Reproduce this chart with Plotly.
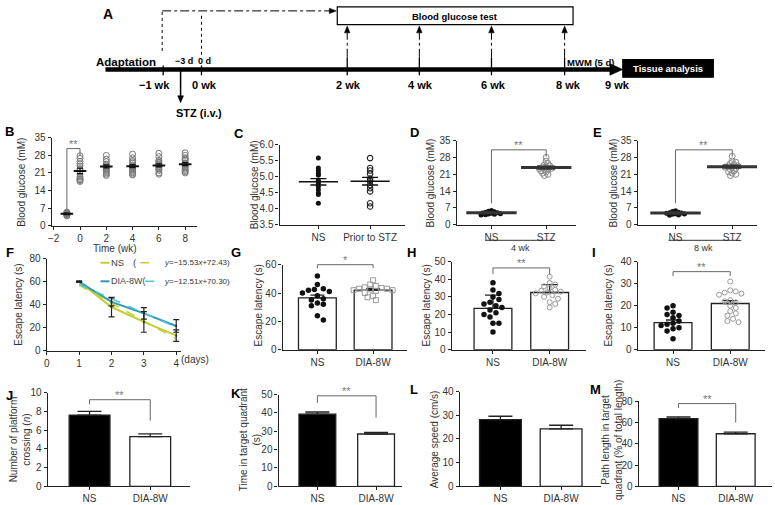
import plotly.graph_objects as go

W, H = 775, 505
def PX(v): return v / W
def PY(v): return 1 - v / H

SANS = "Liberation Sans, Arial, sans-serif"
BOLDF = "Liberation Sans, Arial, sans-serif"
INK = "#222222"
TICK = "#333333"
YEL = "#c3cf2b"
TEAL = "#2f9bb6"
TEAL_L = "#4cc4da"
BRK = "#666666"

# ---------------- data ----------------
a_week_labels = ["−1 wk", "0 wk", "2 wk", "4 wk", "6 wk", "8 wk", "9 wk"]
a_day_labels = ["−3 d", "0 d"]

# B: blood glucose over time
b_weeks = [-1, 0, 2, 4, 6, 8]
b_wk_m1 = [5.4, 5.1, 4.9, 4.8, 4.6, 4.5, 4.3, 4.1, 3.9]
b_wk_0 = [27.8, 26.8, 25.6, 24.6, 23.8, 22.7, 21.8, 20.6, 19.4, 18.8, 18.3, 18.0, 17.6]
b_wk_2 = [28.0, 26.5, 25.5, 24.5, 24.0, 23.5, 23.0, 22.5, 22.0, 21.5, 21.0, 20.5, 20.0]
b_wk_4 = [28.5, 27.0, 26.0, 25.5, 25.0, 24.0, 23.5, 23.0, 22.5, 22.0, 21.5, 21.0, 20.5, 20.2]
b_wk_6 = [28.8, 27.5, 26.0, 25.5, 25.0, 24.5, 24.0, 23.5, 23.0, 22.5, 22.0, 21.0, 20.5]
b_wk_8 = [29.0, 28.0, 27.0, 26.5, 26.0, 25.0, 24.5, 24.0, 23.5, 23.0, 22.5, 22.0, 21.5, 21.0]
b_means = [4.7, 21.8, 23.6, 23.7, 24.0, 24.5]
b_sems = [0.3, 1.1, 0.6, 0.6, 0.6, 0.6]

# C
c_groups = ["NS", "Prior to STZ"]
c_ns = [5.58, 5.27, 5.19, 5.11, 5.04, 4.89, 4.79, 4.69, 4.59, 4.49, 4.44, 4.17]
c_prior = [5.58, 5.27, 5.19, 5.09, 4.94, 4.86, 4.74, 4.64, 4.54, 4.17, 4.07]
c_means = [4.84, 4.86]
c_sems = [0.1, 0.12]

# D, E
de_groups = ["NS", "STZ"]
d_ns = [5.9, 5.6, 5.4, 5.2, 5.0, 4.9, 4.8, 4.6, 4.5, 4.3, 4.1, 4.0]
d_stz = [28.0, 26.5, 25.5, 25.0, 24.5, 24.0, 24.0, 23.5, 23.5, 23.0, 23.0, 22.5, 22.0, 21.5, 21.0, 20.5]
d_means = [5.0, 23.8]
d_sems = [0.2, 0.5]
e_ns = [5.8, 5.5, 5.2, 5.0, 4.9, 4.8, 4.6, 4.5, 4.3, 4.0, 3.9]
e_stz = [28.5, 26.5, 26.0, 25.5, 25.0, 24.5, 24.5, 24.0, 24.0, 23.5, 23.0, 22.5, 22.0, 21.5, 21.0, 20.5]
e_means = [4.9, 24.2]
e_sems = [0.2, 0.5]

# F
f_days = [1, 2, 3, 4]
f_ns = [60, 38, 25, 13]
f_dia = [60, 42.5, 32.5, 21.5]
f_ns_err = [0.5, 8.5, 9.0, 5.0]
f_dia_err = [0.5, 3.5, 5.0, 5.5]
f_ns_fit = [56.9, 41.4, 25.8, 10.3]
f_dia_fit = [57.8, 45.3, 32.8, 20.3]
f_ns_eq = "<i>y</i>=−15.53<i>x</i>+72.43)"
f_dia_eq = "<i>y</i>=−12.51<i>x</i>+70.30)"

# G–M
bar_groups = ["NS", "DIA-8W"]
g_means = [36.5, 42.0]; g_errs = [2.0, 1.0]
g_ns = [52, 46, 43, 42.5, 42, 41, 40, 38, 36, 35, 33, 32, 31, 24, 21]
g_dia = [49, 46, 45, 44, 43.5, 43, 43, 42.5, 42, 42, 41.5, 40, 38, 37, 35]
h_means = [23.5, 32.5]; h_errs = [7.5, 4.5]
h_ns = [38, 34, 32, 30, 28.5, 27, 26, 25, 24, 22.5, 21, 20, 18.5, 15, 15, 10]
h_dia = [41.5, 38, 37, 36, 35, 34, 33.5, 33, 32.5, 32, 31, 30, 29, 27, 26, 24]
i_means = [12.3, 21.0]; i_errs = [1.2, 1.3]
i_ns = [20, 19, 17, 16, 15.5, 14.5, 13, 12, 11.5, 11, 10, 9.5, 8.5, 5]
i_dia = [31, 27, 26.5, 26, 25.5, 25, 22.5, 22, 21.5, 20, 19, 17.5, 16.5, 15.5, 14, 13, 12.5]
j_means = [7.6, 5.3]; j_errs = [0.4, 0.3]
k_means = [39.3, 28.5]; k_errs = [1.2, 0.9]
l_means = [28.2, 24.3]; l_errs = [1.4, 1.5]
m_means = [63.7, 49.5]; m_errs = [1.6, 1.5]

# ---------------- helpers ----------------
fig = go.Figure()
annotations = []
shapes = []
layout = dict(width=775, height=505, margin=dict(l=0, r=0, t=0, b=0),
              paper_bgcolor="white", plot_bgcolor="white", showlegend=False,
              font=dict(family=SANS, size=10, color=TICK))

def xa(i): return "x" if i == 1 else f"x{i}"
def ya(i): return "y" if i == 1 else f"y{i}"

PANEL = {}

def make_axes(i, xpx, ypx, xr, yr, xt, xl, yt, yl):
    PANEL[i] = dict(xpx=xpx, ypx=ypx, xr=xr, yr=yr)
    common = dict(showline=True, linecolor=INK, linewidth=1.2, ticks="outside",
                  ticklen=3, tickwidth=1, tickcolor=INK, showgrid=False,
                  zeroline=False, fixedrange=True, type="linear",
                  tickfont=dict(family=SANS, size=10, color=TICK))
    layout["xaxis" if i == 1 else f"xaxis{i}"] = dict(
        domain=[PX(xpx[0]), PX(xpx[1])], anchor=ya(i), range=list(xr),
        tickmode="array", tickvals=xt, ticktext=xl, **common)
    layout["yaxis" if i == 1 else f"yaxis{i}"] = dict(
        domain=[PY(ypx[1]), PY(ypx[0])], anchor=xa(i), range=list(yr),
        tickmode="array", tickvals=yt, ticktext=yl, **common)

def cat_range(axpx, catpx):
    u = catpx[1] - catpx[0]
    return ((axpx[0] - catpx[0]) / u, (axpx[1] - catpx[0]) / u), u

def ppx(i):
    p = PANEL[i]
    ux = (p["xpx"][1] - p["xpx"][0]) / (p["xr"][1] - p["xr"][0])
    uy = (p["ypx"][1] - p["ypx"][0]) / (p["yr"][1] - p["yr"][0])
    return ux, uy

def swarm(vals, i, d, step):
    ux, uy = ppx(i)
    placed = []
    offs = [0.0] * len(vals)
    order = sorted(range(len(vals)), key=lambda k: -vals[k])
    for cnt, k in enumerate(order):
        yp = vals[k] * uy
        n = 0
        while True:
            if n == 0:
                cands = [0.0]
            else:
                cands = [n * step, -n * step] if cnt % 2 == 0 else [-n * step, n * step]
            hit = None
            for c in cands:
                if all((c - a) ** 2 + (yp - b) ** 2 >= d * d for a, b in placed):
                    hit = c
                    break
            if hit is not None:
                placed.append((hit, yp))
                offs[k] = hit / ux
                break
            n += 1
    return offs

def seg(i, x0, y0, x1, y1, color=BRK, w=1):
    annotations.append(dict(x=x1, y=y1, ax=x0, ay=y0, xref=xa(i), yref=ya(i),
                            axref=xa(i), ayref=ya(i), text="", showarrow=True,
                            arrowhead=0, arrowwidth=w, arrowcolor=color,
                            borderpad=0, borderwidth=0, standoff=0, startstandoff=0))

def bracket(i, x0, x1, ytop, ybot0, ybot1, label):
    seg(i, x0, ybot0, x0, ytop)
    seg(i, x0, ytop, x1, ytop)
    seg(i, x1, ytop, x1, ybot1)
    annotations.append(dict(x=(x0 + x1) / 2, y=ytop, xref=xa(i), yref=ya(i), text=label,
                            showarrow=False, yanchor="bottom", yshift=-3,
                            font=dict(family=SANS, size=11, color="#777777")))

def ptext(x, y, text, size=10, color=TICK, angle=0, family=SANS, xanchor="center", bold=False):
    if bold:
        text = f"<b>{text}</b>"
    annotations.append(dict(x=PX(x), y=PY(y), xref="paper", yref="paper", text=text,
                            showarrow=False, textangle=angle, xanchor=xanchor, yanchor="middle",
                            font=dict(family=family, size=size, color=color)))

def pline(x0, y0, x1, y1, color="black", w=1, dash="solid"):
    shapes.append(dict(type="line", xref="paper", yref="paper", x0=PX(x0), y0=PY(y0),
                       x1=PX(x1), y1=PY(y1), line=dict(color=color, width=w, dash=dash)))

def ptri(pts, color="black"):
    path = "M " + " L ".join(f"{PX(a):.5f},{PY(b):.5f}" for a, b in pts) + " Z"
    shapes.append(dict(type="path", xref="paper", yref="paper", path=path,
                       fillcolor=color, line=dict(color=color, width=0.5)))

def prect(x0, y0, x1, y1, fill="white", line="black", w=1.2):
    shapes.append(dict(type="rect", xref="paper", yref="paper", x0=PX(x0), y0=PY(y1),
                       x1=PX(x1), y1=PY(y0), fillcolor=fill, line=dict(color=line, width=w)))

# ---------------- Panel A (timeline) ----------------
AY = 65  # main arrow level
wk_px = [160, 198.5, 345, 417.5, 490, 563.5]
pline(102, AY, 611, AY, w=4.5)
ptri([(609, AY - 6), (622, AY), (609, AY + 6)])
pline(160, AY - 4, 160, AY + 6, w=1.3)
pline(198.5, AY - 4, 198.5, AY + 6, w=1.3)
for x in wk_px[2:]:
    pline(x, 53, x, AY + 6, w=1.3)
    pline(x, 53, x, 27, w=1, dash="dashdot")
    ptri([(x - 2.8, 27.5), (x + 2.8, 27.5), (x, 20.5)])
pline(159, 46, 159, 5, w=1, dash="dot")
pline(159, 5, 328, 5, w=1, dash="dashdot")
ptri([(327, 2.2), (327, 7.8), (334, 5)])
pline(198.5, 10, 198.5, 50, w=1, dash="dot")
pline(177.5, AY, 177.5, 93, w=1.5)
ptri([(174.5, 92), (180.5, 92), (177.5, 99)])
prect(335, 0.8, 572, 19)
prect(622, 55, 713, 73, fill="black")

ptext(105, 8, "A", size=14, color="black", family=BOLDF, bold=True)
ptext(453, 10.5, "Blood glucose test", size=9.5, color="black", family=BOLDF, bold=True)
ptext(123, 57, "Adaptation", size=11.5, color="black", family=BOLDF, bold=True)
ptext(181, 56, a_day_labels[0], size=9, color="black", family=BOLDF, bold=True)
ptext(202, 56, a_day_labels[1], size=9, color="black", family=BOLDF, bold=True)
ptext(590, 58, "MWM (5 d)", size=9.5, color="black", family=BOLDF, bold=True)
ptext(667, 64, "Tissue analysis", size=9.5, color="white", family=BOLDF, bold=True)
ptext(196, 110, "STZ (i.v.)", size=11, color="black", family=BOLDF, bold=True)
for lab, x in zip(a_week_labels, [151, 202, 346, 419, 492, 567, 617]):
    ptext(x, 81, lab, size=11, color="black", family=BOLDF, bold=True)

# ---------------- Panel B ----------------
make_axes(1, (48, 194), (135, 225), (-2.15, 8.9), (0, 35),
          [-2, 0, 2, 4, 6, 8], ["−2", "0", "2", "4", "6", "8"],
          [0, 7, 14, 21, 28, 35], ["0", "7", "14", "21", "28", "35"])
for wk, vals in zip(b_weeks, [b_wk_m1, b_wk_0, b_wk_2, b_wk_4, b_wk_6, b_wk_8]):
    fig.add_trace(go.Scatter(x=[wk] * len(vals), y=vals, mode="markers", xaxis="x", yaxis="y",
                             marker=dict(symbol="circle-open", size=6, color="#7a7a7a",
                                         line=dict(width=1, color="#7a7a7a"))))
fig.add_trace(go.Scatter(x=b_weeks, y=b_means, mode="markers", xaxis="x", yaxis="y",
                         marker=dict(symbol="line-ew", size=9, line=dict(width=2, color="#111")),
                         error_y=dict(type="data", array=b_sems, color="#111", thickness=1.2, width=3)))
bracket(1, -1, 0, 30.7, 6.5, 27.9, "**")
ptext(18, 180, "Blood glucose (mM)", angle=-90)
ptext(112, 248, "Time (wk)")
ptext(6, 129, "B", size=13, color="black", family=BOLDF, bold=True)

# ---------------- Panel C ----------------
xr, _ = cat_range((277, 403), (316, 368))
make_axes(2, (277, 403), (142, 224), xr, (3.5, 6.0), [0, 1], c_groups,
          [3.5, 4.0, 4.5, 5.0, 5.5, 6.0], ["3.5", "4.0", "4.5", "5.0", "5.5", "6.0"])
fig.add_trace(go.Scatter(x=[0] * len(c_ns), y=c_ns, mode="markers", xaxis="x2", yaxis="y2",
                         marker=dict(symbol="circle", size=5, color="#111")))
fig.add_trace(go.Scatter(x=[1] * len(c_prior), y=c_prior, mode="markers", xaxis="x2", yaxis="y2",
                         marker=dict(symbol="circle-open", size=5.5, color="#222",
                                     line=dict(width=1.1, color="#222"))))
fig.add_trace(go.Scatter(x=[0, 1], y=c_means, mode="markers", xaxis="x2", yaxis="y2",
                         marker=dict(symbol="line-ew", size=28, line=dict(width=1.5, color="#111")),
                         error_y=dict(type="data", array=c_sems, color="#111", thickness=1.3, width=8)))
ptext(252, 183, "Blood glucose (mM)", angle=-90)
ptext(236, 131, "C", size=13, color="black", family=BOLDF, bold=True)

# ---------------- Panels D, E ----------------
for i, axpx, catpx, ns, stz, means, sems, glab, gline, gx, tx, letx in [
        (3, (455, 575), (490, 545), d_ns, d_stz, d_means, d_sems, "4 wk", (484, 553), 519, 429, 413),
        (4, (637, 757), (675, 732), e_ns, e_stz, e_means, e_sems, "8 wk", (668, 740), 703, 613, 597)]:
    xr, _ = cat_range(axpx, catpx)
    make_axes(i, axpx, (138, 224), xr, (0, 35), [0, 1], de_groups,
              [0, 7, 14, 21, 28, 35], ["0", "7", "14", "21", "28", "35"])
    fig.add_trace(go.Scatter(x=swarm(ns, i, 2.5, 1.5), y=ns, mode="markers", xaxis=xa(i), yaxis=ya(i),
                             marker=dict(symbol="circle", size=5, color="#111")))
    fig.add_trace(go.Scatter(x=[1 + o for o in swarm(stz, i, 3.0, 1.8)], y=stz, mode="markers",
                             xaxis=xa(i), yaxis=ya(i),
                             marker=dict(symbol="circle-open", size=6, color="#888",
                                         line=dict(width=1, color="#888"))))
    fig.add_trace(go.Scatter(x=[0, 1], y=means, mode="markers", xaxis=xa(i), yaxis=ya(i),
                             marker=dict(symbol="line-ew", size=36, line=dict(width=3, color="#333")),
                             error_y=dict(type="data", array=sems, color="#333", thickness=2, width=9)))
    bracket(i, 0, 1, 31.2, 8.9, 28.4, "**")
    pline(gline[0], 240, gline[1], 240, color=TICK, w=1)
    ptext(gx, 247.5, glab, size=9)
    ptext(tx, 181, "Blood glucose (mM)", angle=-90)
    ptext(letx, 130, "D" if i == 3 else "E", size=13, color="black", family=BOLDF, bold=True)

# ---------------- Panel F ----------------
make_axes(5, (43, 178), (259, 353), (0, 4.15), (0, 80), [0, 1, 2, 3, 4], ["0", "1", "2", "3", "4"],
          [0, 20, 40, 60, 80], ["0", "20", "40", "60", "80"])
fig.add_trace(go.Scatter(x=f_days, y=f_ns, mode="lines", xaxis="x5", yaxis="y5",
                         line=dict(color=YEL, width=2)))
fig.add_trace(go.Scatter(x=f_days, y=f_dia, mode="lines", xaxis="x5", yaxis="y5",
                         line=dict(color=TEAL, width=2)))
fig.add_trace(go.Scatter(x=f_days, y=f_ns_fit, mode="lines", xaxis="x5", yaxis="y5",
                         line=dict(color=YEL, width=1.5, dash="dash")))
fig.add_trace(go.Scatter(x=f_days, y=f_dia_fit, mode="lines", xaxis="x5", yaxis="y5",
                         line=dict(color=TEAL_L, width=1.5, dash="dash")))
for vals, errs in [(f_ns, f_ns_err), (f_dia, f_dia_err)]:
    fig.add_trace(go.Scatter(x=f_days, y=vals, mode="markers", xaxis="x5", yaxis="y5",
                             marker=dict(size=2, color="#222"),
                             error_y=dict(type="data", array=errs, color="#222", thickness=1.2, width=3)))
pline(97, 263, 106, 263, color=YEL, w=2)
ptext(106, 263, "NS", size=9.5, color="#444", xanchor="left")
ptext(132, 263, "(", size=9.5, color="#444")
pline(137, 263, 153, 263, color=YEL, w=1.5, dash="dash")
ptext(159, 263, f_ns_eq, size=8, color="#333", xanchor="left")
pline(97, 282, 106, 282, color=TEAL, w=2)
ptext(106, 282, "DIA-8W(", size=9, color="#444", xanchor="left")
pline(142, 282, 153, 282, color=TEAL_L, w=1.5, dash="dash")
ptext(159, 282, f_dia_eq, size=8, color="#333", xanchor="left")
ptext(192, 362, "(days)", size=10)
ptext(15, 306, "Escape latency (s)", angle=-90)
ptext(6, 252, "F", size=13, color="black", family=BOLDF, bold=True)

# ---------------- Bars with points (G, H, I) ----------------
def bar_panel(i, axpx, ypx, catpx, yr, yt, means, errs, colors, capw, bw_px):
    xr, u = cat_range(axpx, catpx)
    make_axes(i, axpx, ypx, xr, yr, [0, 1], bar_groups, yt, [str(v) for v in yt])
    fig.add_trace(go.Bar(x=[0, 1], y=means, width=bw_px / u, xaxis=xa(i), yaxis=ya(i),
                         marker=dict(color=colors, line=dict(color=INK, width=1.3)),
                         error_y=dict(type="data", symmetric=False, array=errs, arrayminus=[0, 0],
                                      color=INK, thickness=1.3, width=capw)))

for i, axpx, ypx, catpx, yr, yt, means, errs, ns, dia, dsym, capw, brk, tx, let, letx in [
        (6, (280, 405), (265, 352), (315, 371), (0, 60), [0, 20, 40, 60], g_means, g_errs, g_ns, g_dia,
         "square-open", 7, (60, 57.5, 57.5, "*"), 256, "G", 233),
        (7, (450, 585), (262, 352), (491.5, 548.5), (0, 50), [0, 10, 20, 30, 40, 50], h_means, h_errs,
         h_ns, h_dia, "circle-open", 8, (46.5, 43, 43, "**"), 425, "H", 410),
        (8, (637, 765), (262, 352), (672.5, 730), (0, 40), [0, 10, 20, 30, 40], i_means, i_errs,
         i_ns, i_dia, "circle-open", 7, (35.5, 33.5, 33.5, "**"), 608, "I", 593)]:
    bar_panel(i, axpx, ypx, catpx, yr, yt, means, errs, ["white", "white"], capw, 38)
    fig.add_trace(go.Scatter(x=swarm(ns, i, 5.5, 3.0), y=ns, mode="markers", xaxis=xa(i), yaxis=ya(i),
                             marker=dict(symbol="circle", size=5.5, color="#111")))
    fig.add_trace(go.Scatter(x=[1 + o for o in swarm(dia, i, 5.0, 2.8)], y=dia, mode="markers",
                             xaxis=xa(i), yaxis=ya(i),
                             marker=dict(symbol=dsym, size=5, color="#999",
                                         line=dict(width=1, color="#999"))))
    bracket(i, 0, 1, brk[0], brk[1], brk[2], brk[3])
    ptext(tx, 307, "Escape latency (s)", angle=-90)
    ptext(letx, 252, let, size=13, color="black", family=BOLDF, bold=True)

# ---------------- Bars J, K, L, M ----------------
for i, axpx, ypx, catpx, yr, yt, means, errs, bw, brk, title, tx, let, letx, lety in [
        (9, (44, 187), (396, 492), (86, 147), (0, 10), [0, 2, 4, 6, 8, 10], j_means, j_errs, 41,
         (9.24, 8.75, 7.0), "Number of platform<br>crossing (<i>n</i>)", 17, "J", 6, 399),
        (10, (276, 400), (398, 492), (315, 374), (0, 50), [0, 10, 20, 30, 40, 50], k_means, k_errs, 37,
         (49.3, 45.5, 37.4), "Time in target quadrant<br>(s)", 248, "K", 233, 397),
        (11, (458, 600), (395, 492), (499, 560), (0, 40), [0, 10, 20, 30, 40], l_means, l_errs, 42,
         None, "Average speed (cm/s)", 433, "L", 412, 393),
        (12, (638, 772), (405, 492), (678, 735.5), (0, 80), [0, 20, 40, 60, 80], m_means, m_errs, 39,
         (77.9, 73.8, 60.0), "Path length in target<br>quadrant (% of total length)", 612, "M", 595, 393)]:
    bar_panel(i, axpx, ypx, catpx, yr, yt, means, errs, ["black", "white"], 12, bw)
    if brk:
        bracket(i, 0, 1, brk[0], brk[1], brk[2], "**")
    ptext(tx, 444, title, angle=-90)
    ptext(letx, lety, let, size=13, color="black", family=BOLDF, bold=True)

layout["annotations"] = annotations
layout["shapes"] = shapes
fig.update_layout(**layout)
fig.write_html("out.html", config={"displayModeBar": False},
               post_script="document.body.style.margin='0';document.body.style.overflow='hidden';")
